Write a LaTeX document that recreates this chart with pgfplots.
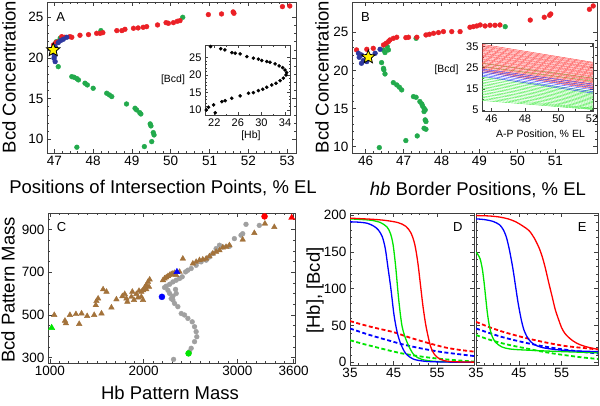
\documentclass[border=0pt]{standalone}
\usepackage{fontspec}
\setmainfont{Liberation Sans}
\usepackage{pgfplots}
\pgfplotsset{compat=1.18}

\definecolor{ptred}{RGB}{235,32,38}
\definecolor{ptgreen}{RGB}{34,170,76}
\definecolor{ptblue}{RGB}{46,56,160}
\definecolor{cgrey}{RGB}{160,160,160}
\definecolor{cbrown}{RGB}{163,114,58}
\definecolor{pr}{RGB}{255,0,0}
\definecolor{pg}{RGB}{0,230,0}
\definecolor{pb}{RGB}{0,0,255}
\definecolor{lr}{RGB}{255,50,50}
\definecolor{lg}{RGB}{60,235,60}
\definecolor{lb}{RGB}{40,60,255}

% filled five-pointed star
\pgfdeclareplotmark{fstar}{%
  \pgfpathmoveto{\pgfpointpolar{90}{\pgfplotmarksize}}%
  \pgfpathlineto{\pgfpointpolar{126}{0.45\pgfplotmarksize}}%
  \pgfpathlineto{\pgfpointpolar{162}{\pgfplotmarksize}}%
  \pgfpathlineto{\pgfpointpolar{198}{0.45\pgfplotmarksize}}%
  \pgfpathlineto{\pgfpointpolar{234}{\pgfplotmarksize}}%
  \pgfpathlineto{\pgfpointpolar{270}{0.45\pgfplotmarksize}}%
  \pgfpathlineto{\pgfpointpolar{306}{\pgfplotmarksize}}%
  \pgfpathlineto{\pgfpointpolar{342}{0.45\pgfplotmarksize}}%
  \pgfpathlineto{\pgfpointpolar{18}{\pgfplotmarksize}}%
  \pgfpathlineto{\pgfpointpolar{54}{0.45\pgfplotmarksize}}%
  \pgfpathclose\pgfusepathqfillstroke}

\tikzset{letter/.style={font=\fontsize{13}{13}\selectfont}}
\pgfplotsset{
  mma/.style={scale only axis, anchor=south west,
    axis background/.style={fill=white},
    axis line style={line width=0.8pt, black!75},
    tick align=inside, major tick length=4pt, minor tick length=2.2pt,
    every tick/.style={black!75, line width=0.5pt},
    tick label style={font=\fontsize{13.5}{14}\selectfont, black},
    label style={font=\fontsize{18.5}{20}\selectfont, black},
    /pgf/number format/assume math mode=true,
    /pgf/number format/1000 sep={}},
  inset/.style={mma,
    tick label style={font=\fontsize{11}{11}\selectfont},
    label style={font=\fontsize{10.5}{11}\selectfont},
    major tick length=3pt, minor tick length=1.5pt,
    axis line style={line width=0.7pt, black!75}},
  dot/.style={only marks, mark=*, mark size=2.4pt},
  hb/.style={smooth, line width=1.3pt, no marks},
  bcd/.style={smooth, line width=1.8pt, no marks, dash pattern=on 4pt off 2.5pt},
}

\begin{document}
\begin{tikzpicture}
\path[use as bounding box] (0,0) rectangle (600pt,405pt);

% ---------------- A ----------------
\begin{axis}[mma, at={(47pt,252pt)}, width=249pt, height=151pt,
  xmin=46.81, xmax=53.23, ymin=8.31, ymax=26.88,
  xtick={47,...,53}, ytick={10,15,20,25},
  minor x tick num=4, minor y tick num=4,
  xlabel={Positions of Intersection Points, \% EL},
  xlabel style={at={(axis description cs:0.466,-0.232)}, anchor=center},
  ylabel={Bcd Concentration},
  ylabel style={at={(axis description cs:-0.153,0.503)}, anchor=center}]
\addplot[dot, ptgreen] coordinates {(50.31,25.0) (48.2,23.36) (47.15,22.42) (47.05,22.0)
  (47.10,18.93) (47.45,17.7) (47.51,17.62) (47.58,17.46) (47.62,17.3) (47.79,16.89)
  (47.85,16.68) (48.0,16.27) (48.35,15.66) (48.42,15.45) (48.48,15.25) (48.86,14.34)
  (49.08,13.81) (49.12,13.61) (49.2,13.28) (49.23,13.11) (49.47,11.89) (49.49,11.64)
  (49.55,10.82) (49.57,10.53) (49.51,9.71) (49.32,9.1) (47.58,9.02)};
\addplot[dot, ptred] coordinates {(53.07,26.39) (52.88,26.31) (51.63,25.49) (51.61,25.66)
  (51.31,25.41) (50.97,25.33) (50.24,24.59) (50.17,24.51) (50.07,24.34) (49.94,24.26)
  (49.88,24.34) (49.66,24.06) (49.38,23.85) (49.29,23.77) (49.16,23.69) (49.04,23.65)
  (48.82,23.52) (48.74,23.36) (48.61,23.36) (48.25,23.11) (48.18,23.03) (48.09,23.03)
  (47.88,22.87) (47.66,22.79) (47.45,22.54) (47.40,22.62) (47.27,22.54) (47.19,22.62)
  (47.10,22.0) (47.04,21.89) (46.98,21.6)};
\addplot[dot, ptblue] coordinates {(47.32,22.54) (47.23,22.3) (47.16,22.13) (47.1,21.89)
  (47.02,21.4) (46.98,20.57) (47.0,20.2) (46.99,19.96) (47.02,19.55)};
\addplot[only marks, mark=fstar, mark size=7pt, mark options={fill=yellow, draw=black, line width=0.8pt}]
  coordinates {(46.97,20.98)};
\node[letter] at (rel axis cs:0.055,0.9) {A};
\end{axis}

% inset of A
\begin{axis}[inset, at={(205pt,290pt)}, width=85pt, height=70pt,
  xmin=20.43, xmax=34.84, ymin=8.57, ymax=28.6,
  xtick={22,26,30,34}, ytick={10,15,20,25},
  minor x tick num=1, minor y tick num=4,
  xlabel={[Hb]}, xlabel style={at={(axis description cs:0.54,-0.3)}, anchor=center},
  ylabel={[Bcd]}, ylabel style={rotate=-90, at={(axis description cs:-0.376,0.5)}, anchor=center}]
\addplot[only marks, mark=*, mark size=1.6pt, black] coordinates {
  (21.37,28.15) (23.1,27.5) (23.8,27.2) (24.98,26.4) (25.55,26.26) (26.39,26.06)
  (27.52,25.29) (28.64,24.83) (29.48,24.54) (30.05,24.14) (30.9,23.85) (31.45,23.68)
  (32.3,23.2) (33.0,22.62) (33.6,22.13) (33.99,21.47) (34.28,20.7)
  (34.16,20.04) (33.71,19.1) (33.15,18.4) (32.47,17.67) (31.75,17.18) (30.9,16.52)
  (30.23,15.95) (29.48,15.55) (28.64,14.97) (27.8,14.8) (26.39,14.03) (24.98,13.37)
  (23.86,12.68) (23.3,12.39) (21.89,11.45) (21.04,10.79) (20.65,10.0) (22.17,9.24)};
\end{axis}

% ---------------- B ----------------
\begin{axis}[mma, at={(352pt,252pt)}, width=245pt, height=151pt,
  xmin=45.64, xmax=52.1, ymin=9.18, ymax=28.97,
  xtick={46,...,51}, ytick={10,15,20,25},
  minor x tick num=4, minor y tick num=4,
  xlabel={\textit{hb} Border Positions, \% EL},
  xlabel style={at={(axis description cs:0.514,-0.245)}, anchor=center},
  ylabel={Bcd Concentration},
  ylabel style={at={(axis description cs:-0.122,0.503)}, anchor=center}]
\addplot[dot, ptgreen] coordinates {(49.68,25.74) (47.33,24.21) (46.57,23.12) (46.6,22.69)
  (46.51,22.34) (46.47,22.69) (46.42,21.03) (46.47,20.28) (46.48,20.07) (46.51,19.54)
  (46.73,18.4) (46.82,18.1) (46.89,17.8) (46.95,17.45) (47.26,16.57) (47.33,16.48)
  (47.43,15.92) (47.48,15.61) (47.5,15.35) (47.54,15.04) (47.57,14.83) (47.54,14.61)
  (47.57,13.52) (47.59,13.3) (47.54,12.42) (47.59,12.29) (47.36,11.42) (47.06,10.81)
  (46.36,9.89)};
\addplot[dot, ptred] coordinates {(51.9,28.01) (52.0,28.45) (50.71,26.97) (50.85,27.23)
  (50.88,27.4) (50.34,26.6) (49.54,25.96) (49.41,25.92) (49.28,25.92) (49.15,25.83)
  (49.02,25.96) (48.93,25.83) (48.84,25.74) (48.75,25.66) (48.49,25.09) (48.27,25.09)
  (48.05,25.09) (47.92,24.96) (47.79,24.87) (47.68,24.74) (47.59,24.65) (47.35,24.35)
  (47.13,24.35) (47.06,24.3) (46.82,24.35) (46.73,24.21) (46.64,24.0) (46.6,23.78)
  (46.54,23.56) (46.47,23.34) (46.2,22.9) (46.03,22.77) (45.76,22.69)};
\addplot[dot, ptblue] coordinates {(45.81,22.25) (45.89,22.03) (45.83,21.72) (45.94,21.29)
  (45.89,20.94) (46.03,21.16) (46.11,21.81) (46.25,22.25) (46.38,22.77)};
\addplot[only marks, mark=fstar, mark size=7pt, mark options={fill=yellow, draw=black, line width=0.8pt}]
  coordinates {(46.07,21.75)};
\node[letter] at (rel axis cs:0.055,0.9) {B};
\end{axis}

% inset of B
\begin{axis}[inset, at={(482pt,294pt)}, width=111pt, height=68pt,
  xmin=45.44, xmax=52.06, ymin=4.5, ymax=36.6,
  xtick={46,48,50,52}, ytick={5,15,25,35},
  minor x tick num=1, minor y tick num=1,
  unbounded coords=jump,
  xlabel={A-P Position, \% EL}, xlabel style={at={(axis description cs:0.527,-0.35)}, anchor=center},
  ylabel={[Bcd]}, ylabel style={rotate=-90, at={(axis description cs:-0.32,0.6)}, anchor=center}]
\addplot[lg, line width=0.4pt, no marks] coordinates {
  (45.44,27.0) (52.06,20.0) (45.44,nan)
  (45.44,25.5) (52.06,18.6) (45.44,nan)
  (45.44,20.5) (52.06,13.8) (45.44,nan)
  (45.44,19.8) (52.06,13.2) (45.44,nan)
  (45.44,19.0) (52.06,12.6) (45.44,nan)
  (45.44,18.2) (52.06,12.0) (45.44,nan)
  (45.44,17.5) (52.06,11.4) (45.44,nan)
  (45.44,16.8) (52.06,10.8) (45.44,nan)
  (45.44,16.0) (52.06,10.2) (45.44,nan)
  (45.44,15.3) (52.06,9.6) (45.44,nan)
  (45.44,14.6) (52.06,9.0) (45.44,nan)
  (45.44,13.8) (52.06,8.4) (45.44,nan)
  (45.44,13.1) (52.06,7.8) (45.44,nan)
  (45.44,12.4) (52.06,7.2) (45.44,nan)
  (45.44,11.6) (52.06,6.6) (45.44,nan)
  (45.44,10.9) (52.06,6.0) (45.44,nan)
  (45.44,10.2) (52.06,5.6) (45.44,nan)
  (45.44,9.5) (52.06,5.2)};
\addplot[lr, line width=0.4pt, no marks] coordinates {
  (45.44,36.0) (52.06,27.5) (45.44,nan)
  (45.44,35.4) (52.06,27.0) (45.44,nan)
  (45.44,34.9) (52.06,26.4) (45.44,nan)
  (45.44,34.3) (52.06,25.9) (45.44,nan)
  (45.44,33.7) (52.06,25.3) (45.44,nan)
  (45.44,33.2) (52.06,24.8) (45.44,nan)
  (45.44,32.6) (52.06,24.3) (45.44,nan)
  (45.44,32.0) (52.06,23.7) (45.44,nan)
  (45.44,31.5) (52.06,23.2) (45.44,nan)
  (45.44,30.9) (52.06,22.6) (45.44,nan)
  (45.44,30.4) (52.06,22.1) (45.44,nan)
  (45.44,29.8) (52.06,21.6) (45.44,nan)
  (45.44,29.2) (52.06,21.0) (45.44,nan)
  (45.44,28.7) (52.06,20.5) (45.44,nan)
  (45.44,28.1) (52.06,19.9) (45.44,nan)
  (45.44,27.5) (52.06,19.4) (45.44,nan)
  (45.44,27.0) (52.06,18.9) (45.44,nan)
  (45.44,26.4) (52.06,18.3) (45.44,nan)
  (45.44,25.8) (52.06,17.8) (45.44,nan)
  (45.44,25.3) (52.06,17.2) (45.44,nan)
  (45.44,24.7) (52.06,16.7) (45.44,nan)
  (45.44,24.1) (52.06,16.1) (45.44,nan)
  (45.44,23.6) (52.06,15.6) (45.44,nan)
  (45.44,23.0) (52.06,15.0)};
\addplot[lb, line width=0.4pt, no marks] coordinates {
  (45.44,24.3) (52.06,17.2) (45.44,nan)
  (45.44,23.6) (52.06,16.3) (45.44,nan)
  (45.44,22.9) (52.06,15.4) (45.44,nan)
  (45.44,22.2) (52.06,14.5) (45.44,nan)
  (45.44,21.5) (52.06,13.6) (45.44,nan)
  (45.44,20.9) (52.06,12.9)};
\end{axis}

% ---------------- C ----------------
\begin{axis}[mma, at={(48pt,42pt)}, width=247pt, height=150pt,
  xmin=979, xmax=3615, ymin=275, ymax=978,
  xtick={1000,2000,3000,3600}, ytick={300,500,700,900},
  minor xtick={1100,1200,...,3500}, minor ytick={350,400,...,950},
  xlabel={Hb Pattern Mass},
  xlabel style={at={(axis description cs:0.494,-0.2)}, anchor=center},
  ylabel={Bcd Pattern Mass},
  ylabel style={at={(axis description cs:-0.162,0.487)}, anchor=center}]
\addplot[only marks, mark=*, mark size=2.4pt, cgrey] coordinates {
  (3092,925) (3234,920) (3057,881) (3039,874) (2968,858) (2915,822) (2844,819) (2809,827)
  (2773,811) (2738,788) (2702,772) (2667,757) (2613,749) (2560,733) (2507,718) (2472,710)
  (2447,702) (2411,679) (2383,671) (2347,663) (2312,655) (2277,644) (2241,635) (2223,629)
  (2259,616) (2277,601) (2312,588) (2340,620) (2347,601) (2294,577) (2312,570) (2330,554)
  (2365,539) (2401,507) (2436,500) (2472,484) (2518,468) (2543,445) (2560,422) (2567,398)
  (2543,375) (2507,344) (2489,328) (2319,292)};
\addplot[only marks, mark=triangle*, mark size=3.2pt, cbrown] coordinates {
  (1046,500) (1160,473) (1170,461) (1213,500) (1277,504) (1312,458) (1337,507) (1397,495)
  (1472,500) (1550,507) (1489,546) (1496,565) (1514,577) (1567,620) (1603,609) (1656,535)
  (1709,573) (1773,588) (1798,598) (1816,577) (1826,562) (1869,585) (1879,609) (1897,570)
  (1922,598) (1940,582) (1950,613) (1975,609) (1975,585) (1993,616) (1993,570) (2011,629)
  (2028,640) (2046,655) (2057,632) (2028,620) (2064,666) (2206,663) (2223,671) (2241,676)
  (2259,682) (2277,687) (2294,691) (2312,694) (2330,697) (2347,687) (2383,702) (2418,764)
  (2525,741) (2560,749) (2596,757) (2631,760) (2667,764) (2702,775) (2738,788) (2773,796)
  (2809,803) (2844,816) (2879,819) (2915,827) (3057,853) (3181,884) (3294,928) (3394,912)};
\addplot[only marks, mark=*, mark size=3pt, pr] coordinates {(3290,962)};
\addplot[only marks, mark=triangle*, mark size=3.6pt, pr] coordinates {(3580,956)};
\addplot[only marks, mark=*, mark size=3pt, pb] coordinates {(2195,585)};
\addplot[only marks, mark=triangle*, mark size=3.6pt, pb] coordinates {(2355,702)};
\addplot[only marks, mark=*, mark size=3pt, pg] coordinates {(2479,320)};
\addplot[only marks, mark=triangle*, mark size=3.6pt, pg] coordinates {(1018,440)};
\node[letter] at (rel axis cs:0.055,0.907) {C};
\end{axis}

% ---------------- D ----------------
\begin{axis}[mma, at={(350pt,40pt)}, width=124pt, height=152pt,
  xmin=35, xmax=63.5, ymin=-3.7, ymax=203,
  xtick={35,45,55}, ytick={0,50,...,200},
  minor x tick num=4, minor y tick num=4,
  ylabel={[Hb], [Bcd]},
  ylabel style={at={(axis description cs:-0.282,0.49)}, anchor=center}]
\addplot[bcd, pr] coordinates {(35,56) (38,51) (41,46.5) (45,41) (48,35) (51,29.5) (54,24.5) (57,20) (60,17) (63.5,14.5)};
\addplot[bcd, pb] coordinates {(35,46) (38,40) (41,34.5) (44,29.5) (47,24.5) (50,20.5) (53,17) (56,14) (60,11) (63.5,8.5)};
\addplot[bcd, pg] coordinates {(35,30) (38,25) (41,20.5) (44,16) (47,12) (50,9) (53,6.5) (56,4.5) (60,2.5) (63.5,1)};
\addplot[hb, pg] coordinates {(35,195) (38,194) (40,193) (42,190) (43.5,184) (44.3,175) (44.9,160)
  (45.5,130) (46.2,85) (47,48) (48.2,26) (49.7,10) (51.5,4) (54,1.5) (58,0.5) (63.5,0)};
\addplot[hb, pb] coordinates {(35,191) (37,190.5) (39,189) (40.5,185) (41.5,180) (42.4,171) (43.1,155)
  (43.7,130) (44.4,100) (45.1,65) (45.8,42) (46.6,26) (47.8,12) (49.5,4.5) (52,1.5) (56,0.4) (63.5,0)};
\addplot[hb, pr] coordinates {(35,196) (40,194.5) (43,193) (46,190) (47.8,185) (49,176) (49.9,160)
  (50.6,135) (51.2,105) (51.8,75) (52.5,48) (53.5,22) (54.5,10) (55.8,4) (58,1) (63.5,0.2)};
\node[letter] at (rel axis cs:0.87,0.91) {D};
\node[font=\fontsize{20}{22}\selectfont] at (rel axis cs:1.185,-0.184) {A-P Position, \%EL};
\end{axis}

% ---------------- E ----------------
\begin{axis}[mma, at={(476pt,40pt)}, width=122pt, height=152pt,
  xmin=35, xmax=63.5, ymin=-3.7, ymax=203,
  xtick={35,45,55}, ytick={0,50,...,200}, yticklabels={},
  minor x tick num=4, minor y tick num=4]
\addplot[bcd, pr] coordinates {(35,55) (38,48) (41,42) (44,37) (47,32.5) (50,28.5) (53,25) (56,22) (60,19.5) (63.5,17.5)};
\addplot[bcd, pb] coordinates {(35,46) (38,40) (41,34.5) (44,30) (47,26) (50,22.5) (53,19.5) (56,17) (60,14) (63.5,12)};
\addplot[bcd, pg] coordinates {(35,37) (38,31) (41,26) (44,22) (47,18.5) (50,15) (53,12) (56,9.5) (60,6.5) (63.5,4.5)};
\addplot[hb, pg] coordinates {(35,150) (35.5,146) (36,140) (36.5,126) (36.9,108) (37.3,86) (37.7,65)
  (38.2,47) (38.8,35) (39.6,27) (41,21) (43,18) (47,16.5) (55,14.5) (63.5,13)};
\addplot[hb, pb] coordinates {(35,195) (37,194) (39,191.5) (40.5,187) (41.4,180) (42.1,170) (42.8,153)
  (43.6,128) (44.2,105) (44.8,82) (45.5,60) (46.2,44) (47.2,32) (48.5,24.5) (50.5,20) (54,17)
  (58,15.5) (63.5,14.5)};
\addplot[hb, pr] coordinates {(35,199.5) (38,199) (40.5,197.5) (42.5,195) (44.3,191) (46,185) (47.4,179)
  (48.6,169) (49.7,156) (50.5,143) (51.2,128) (52,108) (52.8,89) (53.5,72) (54.3,58) (55,47)
  (55.8,39) (57,32) (58.5,26) (60.5,21.5) (63.5,17.5)};
\node[letter] at (rel axis cs:0.87,0.91) {E};
\end{axis}
\end{tikzpicture}
\end{document}
